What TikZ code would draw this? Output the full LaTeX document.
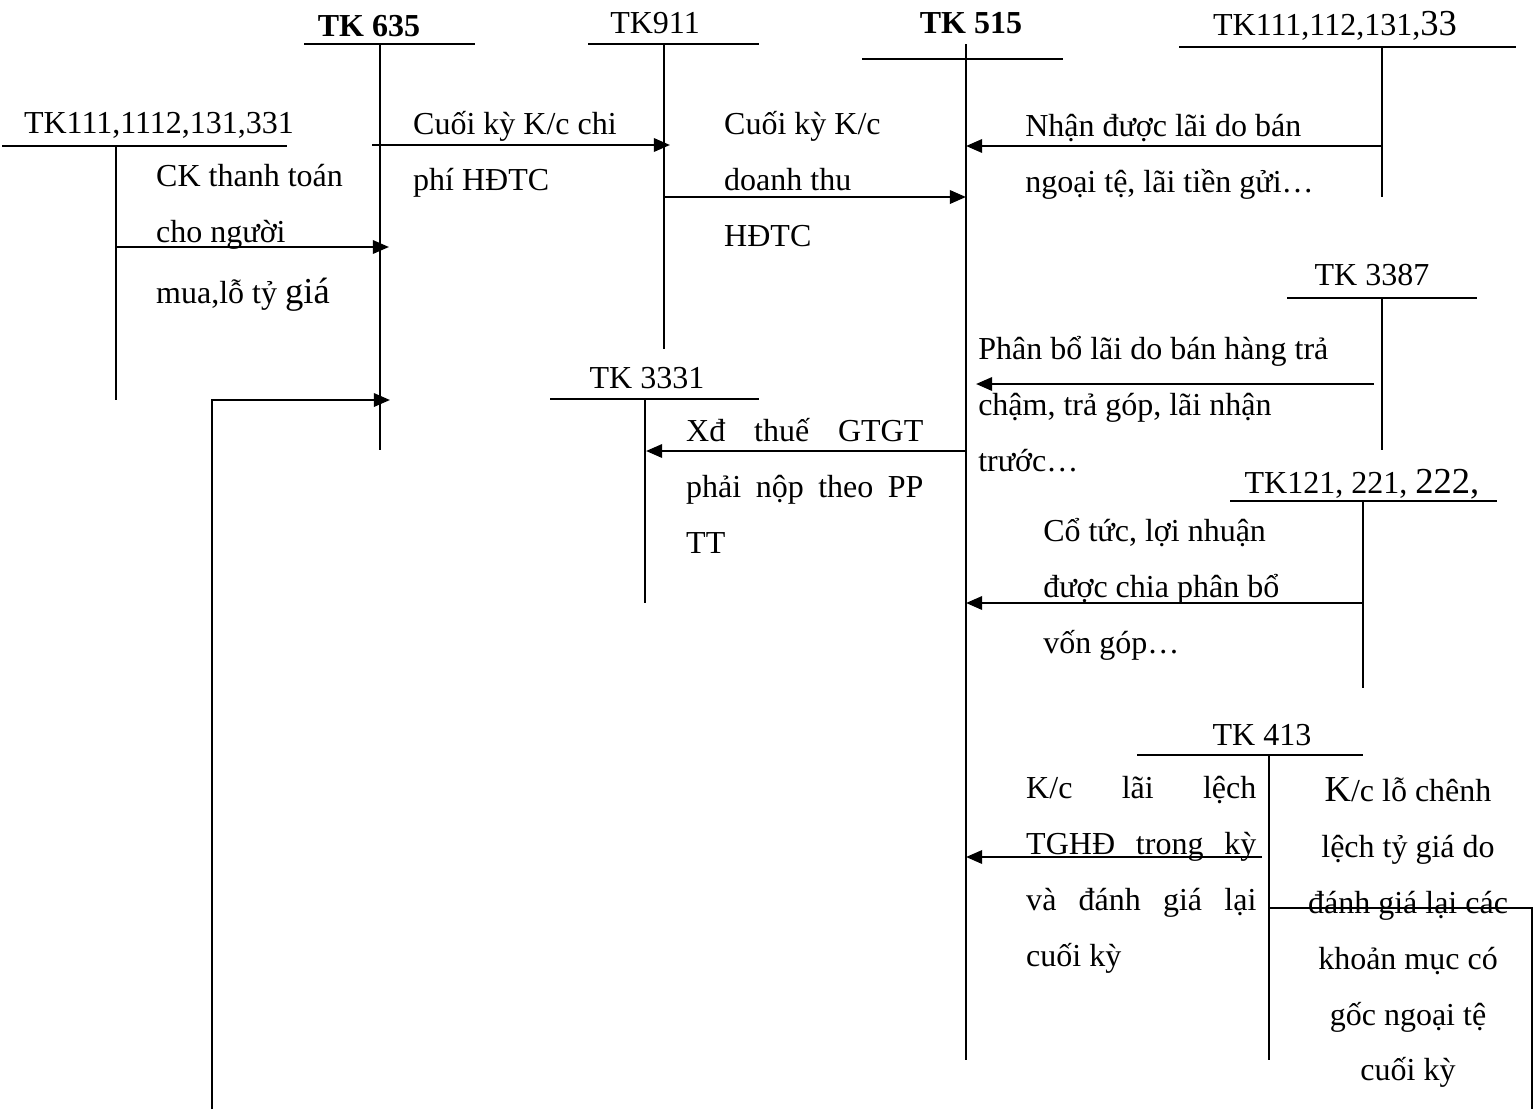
\documentclass[tikz,border=0pt]{standalone}
\usepackage{fontspec}
\setmainfont{Liberation Serif}
\usepackage{tikz}
\usetikzlibrary{arrows.meta,calc}

\begin{document}
\begin{tikzpicture}[x=0.01cm, y=-0.01cm, line width=0.7pt,
        every node/.style={inner sep=0pt, font=\fontsize{9.1}{15.9}\selectfont},
        accname/.style={anchor=base},
        entry/.style={anchor=north west, text width=4cm, align=flush left,
            execute at begin node={\noindent\strut}},
        flow/.style={-{Triangle[length=4.6pt, width=3.8pt]}}]
        \useasboundingbox (0,0) rectangle (1534,1109);

        % Parameters
        \def\upSize{\fontsize{10.4}{15.9}\selectfont}   % slightly larger glyphs

        % Account names
        \node[accname] (tk635)  at (369,37)  {\textbf{TK 635}};
        \node[accname] (tk911)  at (655,33)  {TK911};
        \node[accname] (tk515)  at (971,33)  {\textbf{TK 515}};
        \node[accname] (tk111)  at (1335,35) {TK111,112,131,{\upSize 33}};
        \node[accname] (tk1111) at (159,133) {TK111,1112,131,331};
        \node[accname] (tk3387) at (1372,285) {TK 3387};
        \node[accname] (tk3331) at (647,388) {TK 3331};
        \node[accname] (tk121)  at (1362,493) {TK121, 221, {\upSize 222,}};
        \node[accname] (tk413)  at (1262,745) {TK 413};

        % T-accounts: bar left / bar right / bar y / stem x / stem top / stem bottom
        \foreach \bl/\br/\by/\sx/\st/\sb in {304/475/44/380/44/450, 588/759/44/664/44/349,
                862/1063/59/966/44/1060, 1179/1516/47/1382/47/197, 2/287/146/116/146/400,
                1287/1477/298/1382/298/450, 550/759/399/645/399/603,
                1230/1497/501/1363/501/688, 1137/1363/755/1269/755/1060} {
            \draw (\bl,\by) -- (\br,\by);
            \draw (\sx,\st) -- (\sx,\sb);
        }

        % Entries
        \node[entry] (ck) at (155,146) {CK thanh toán\\cho người\\[1.4pt]mua,lỗ tỷ {\upSize giá}};
        \node[entry] (kcchi) at (412,94) {Cuối kỳ K/c chi\\phí HĐTC};
        \node[entry] (kcdt) at (723,94) {Cuối kỳ K/c\\doanh thu\\HĐTC};
        \node[entry] (laiban) at (1024,96) {Nhận được lãi do bán\\ngoại tệ, lãi tiền gửi…};
        \node[entry] (phanbo) at (977,319) {Phân bổ lãi do bán hàng trả\\chậm, trả góp, lãi nhận\\trước…};
        \node[entry, text width=2.37cm, align=justify] (thue) at (685,401)
            {Xđ thuế GTGT\linebreak phải nộp theo PP\linebreak TT};
        \node[entry] (cotuc) at (1042,501) {Cổ tức, lợi nhuận\\được chia phân bổ\\vốn góp…};
        \node[entry, text width=2.30cm, align=justify] (kclai) at (1025,758)
            {K/c lãi lệch\linebreak TGHĐ trong kỳ\linebreak và đánh giá lại\linebreak cuối kỳ};
        \node[entry, anchor=north, text width=2.5cm, align=flush center] (kclo) at (1408,761)
            {{\upSize K}/c lỗ chênh\\lệch tỷ giá do\\đánh giá lại các\\khoản mục có\\gốc ngoại tệ\\cuối kỳ};

        % Arrow ends
        \coordinate (a1111) at (116,247);   \coordinate (a635) at (389,247);
        \coordinate (b635) at (372,145);    \coordinate (b911) at (670,145);
        \coordinate (c911) at (664,197);    \coordinate (c515) at (966,197);
        \coordinate (d111) at (1382,146);   \coordinate (d515) at (966,146);
        \coordinate (e3387) at (1374,384);  \coordinate (e515) at (976,384);
        \coordinate (f515) at (966,451);    \coordinate (f3331) at (646,451);
        \coordinate (g121) at (1363,603);   \coordinate (g515) at (966,603);
        \coordinate (h413) at (1262,857);   \coordinate (h515) at (966,857);
        \coordinate (kfoot) at (212,1109);  \coordinate (k635) at (390,400);
        \coordinate (m413) at (1269,908);   \coordinate (mfoot) at (1532,1109);

        % Connectors
        \draw[flow] (a1111) -- (a635);
        \draw[flow] (b635) -- (b911);
        \draw[flow] (c911) -- (c515);
        \draw[flow] (d111) -- (d515);
        \draw[flow] (e3387) -- (e515);
        \draw[flow] (f515) -- (f3331);
        \draw[flow] (g121) -- (g515);
        \draw[flow] (h413) -- (h515);
        \draw[flow] (kfoot) |- (k635);
        \draw (m413) -| (mfoot);
\end{tikzpicture}
\end{document}
